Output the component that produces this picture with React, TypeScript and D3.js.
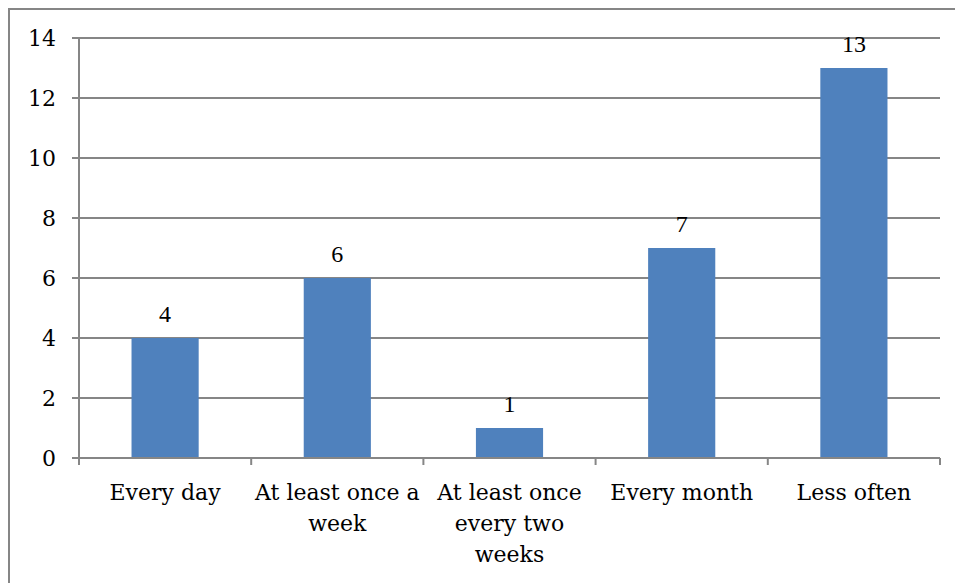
import React from "react";
import * as d3 from "d3";

// Survey answers: how often respondents do it
const categoryLines: string[][] = [
  ["Every day"],
  ["At least once a", "week"],
  ["At least once", "every two", "weeks"],
  ["Every month"],
  ["Less often"],
];
const counts: number[] = [4, 6, 1, 7, 13];
const yTicks: number[] = [0, 2, 4, 6, 8, 10, 12, 14];

const W = 955;
const H = 583;
const margin = { left: 79, right: 15, top: 38, bottom: 125 };

const gridColor = "#868686";
const barColor = "#4F81BD";
const axisFont = "'DejaVu Serif', serif";
const valueFont = "'Liberation Serif', 'Times New Roman', serif";

export default function App() {
  const x = d3
    .scaleBand<number>()
    .domain(counts.map((_, i) => i))
    .range([margin.left, W - margin.right])
    .padding(0);
  const y = d3
    .scaleLinear()
    .domain([0, 14])
    .range([H - margin.bottom, margin.top]);

  const barW = x.bandwidth() * 0.39;
  const y0 = y(0);

  return (
    <div style={{ position: "fixed", left: 0, top: 0 }}>
      <svg width={W} height={H} style={{ display: "block", background: "#fff" }}>
        {/* chart frame */}
        <rect x={9} y={9} width={W + 20} height={H + 20} fill="none" stroke={gridColor} strokeWidth={2} />

        {/* horizontal gridlines and y ticks */}
        {yTicks.map((t) => (
          <g key={t}>
            <line x1={margin.left - 7} x2={W - margin.right} y1={y(t)} y2={y(t)} stroke={gridColor} strokeWidth={2} />
            <text
              x={56}
              y={y(t)}
              dy="0.36em"
              textAnchor="end"
              fontFamily={axisFont}
              fontSize={22}
              fill="#000"
            >
              {t}
            </text>
          </g>
        ))}

        {/* y axis line */}
        <line x1={margin.left} x2={margin.left} y1={y(14)} y2={y0} stroke={gridColor} strokeWidth={2} />

        {/* category tick marks on x axis */}
        {d3.range(counts.length + 1).map((i) => {
          const xx = margin.left + i * x.step();
          return <line key={i} x1={xx} x2={xx} y1={y0} y2={y0 + 7} stroke={gridColor} strokeWidth={2} />;
        })}

        {/* bars */}
        {counts.map((v, i) => {
          const cx = (x(i) as number) + x.bandwidth() / 2;
          return (
            <g key={i}>
              <rect x={cx - barW / 2} y={y(v)} width={barW} height={y0 - y(v)} fill={barColor} />
              <text
                x={cx}
                y={y(v) - 16}
                textAnchor="middle"
                fontFamily={valueFont}
                fontSize={24}
                fill="#000"
              >
                {v}
              </text>
            </g>
          );
        })}

        {/* x axis line drawn over bar bottoms */}
        <line x1={margin.left} x2={W - margin.right} y1={y0} y2={y0} stroke={gridColor} strokeWidth={2} />

        {/* category labels */}
        {categoryLines.map((lines, i) => {
          const cx = (x(i) as number) + x.bandwidth() / 2;
          return (
            <text key={i} textAnchor="middle" fontFamily={axisFont} fontSize={22} fill="#000">
              {lines.map((ln, j) => (
                <tspan key={j} x={cx} y={500 + j * 31}>
                  {ln}
                </tspan>
              ))}
            </text>
          );
        })}
      </svg>
    </div>
  );
}
